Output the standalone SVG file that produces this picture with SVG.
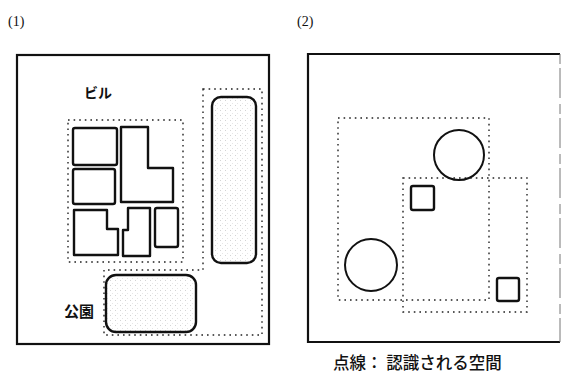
<svg xmlns="http://www.w3.org/2000/svg" width="561" height="374" viewBox="0 0 561 374">
<defs>
<pattern id="stip" width="5" height="5" patternUnits="userSpaceOnUse">
<rect x="0" y="0" width="1" height="1" fill="#d4d4d4"/>
<rect x="2" y="3" width="1" height="1" fill="#e6e6e6"/>
</pattern>
</defs>
<style>
.frame{fill:none;stroke:#111;stroke-width:2.2}
.bld{fill:#fff;stroke:#111;stroke-width:2.4;stroke-linejoin:round}
.dot{fill:none;stroke:#222;stroke-width:1.4;stroke-dasharray:1.6 4}
.lbl{font-family:"Noto Sans CJK JP","Liberation Sans",sans-serif;fill:#111}
.num{font-family:"Liberation Serif",serif;fill:#111;font-size:14px}
</style>
<rect width="561" height="374" fill="#fff"/>
<text class="num" x="8" y="26">(1)</text>
<text class="num" x="297" y="26">(2)</text>

<g id="panel1">
<rect class="frame" x="17" y="55" width="252" height="289"/>
</g>
<g id="label-bldg"><text class="lbl" x="84" y="98" font-size="14" font-weight="bold">ビル</text></g>
<g id="label-park"><text class="lbl" x="64" y="317" font-size="15" font-weight="bold">公園</text></g>

<g id="dotted1">
<rect class="dot" x="68" y="120" width="115" height="142"/>
<path class="dot" d="M203 89 H262 V335 H104 V270 H203 Z"/>
</g>

<g id="buildings">
<rect class="bld" x="73" y="128" width="44" height="37" rx="2"/>
<path class="bld" d="M121 127 H148 V168 H173 V202 H121 Z"/>
<rect class="bld" x="73" y="169" width="42" height="35" rx="2"/>
<path class="bld" d="M74 210 H107 V229 H118 V255 H74 Z"/>
<path class="bld" d="M123 256 V230 H128 V208 H150 V256 Z"/>
<rect class="bld" x="155" y="208" width="23" height="39" rx="2"/>
</g>
<g id="tall">
<rect x="212" y="97" width="44" height="166" rx="9" fill="url(#stip)" stroke="#111" stroke-width="2.4"/>
</g>
<g id="park">
<rect x="106" y="275" width="90" height="57" rx="10" fill="url(#stip)" stroke="#111" stroke-width="2.4"/>
</g>

<g id="panel2">
<path class="frame" d="M560 54 H308 V342 H560"/>
<path d="M560 54 V342" stroke="#777" stroke-width="1" stroke-dasharray="10 4 30 6"/>
</g>
<g id="dotted2">
<rect class="dot" x="338" y="118" width="151" height="182"/>
<rect class="dot" x="403" y="178" width="124" height="134"/>
</g>
<g id="shapes2">
<circle cx="459" cy="155" r="25" fill="none" stroke="#111" stroke-width="2"/>
<rect x="411" y="186" width="23" height="24" rx="2" fill="none" stroke="#111" stroke-width="2.4"/>
<circle cx="371" cy="265" r="26" fill="none" stroke="#111" stroke-width="2"/>
<rect x="497" y="278" width="22" height="23" rx="2" fill="none" stroke="#111" stroke-width="2.4"/>
</g>
<g id="caption"><text class="lbl" x="333" y="369" font-size="16.5" font-weight="500">点線： 認識される空間</text></g>
</svg>
